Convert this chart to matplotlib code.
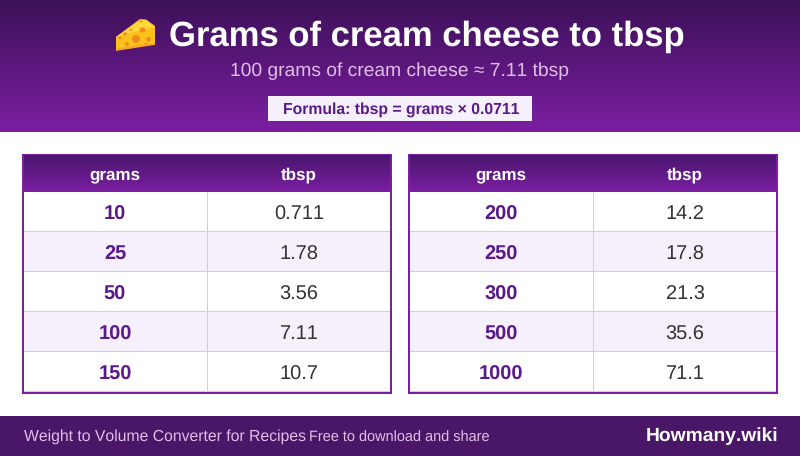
import numpy as np
import matplotlib
matplotlib.use("Agg")
import matplotlib.pyplot as plt
from matplotlib.patches import Rectangle, Polygon, Ellipse
from matplotlib.colors import LinearSegmentedColormap

plt.rcParams['font.family'] = ['Liberation Sans', 'DejaVu Sans']
plt.rcParams['text.hinting'] = 'no_hinting'
plt.rcParams['text.hinting_factor'] = 8
plt.rcParams['text.kerning_factor'] = 6

TITLE = "Grams of cream cheese to tbsp"
SUBTITLE = "100 grams of cream cheese ≈ 7.11 tbsp"
FORMULA = "Formula: tbsp = grams × 0.0711"
COLUMNS = ["grams", "tbsp"]
LEFT_GRAMS = ["10", "25", "50", "100", "150"]
LEFT_TBSP = ["0.711", "1.78", "3.56", "7.11", "10.7"]
RIGHT_GRAMS = ["200", "250", "300", "500", "1000"]
RIGHT_TBSP = ["14.2", "17.8", "21.3", "35.6", "71.1"]
FOOT_LEFT = "Weight to Volume Converter for Recipes"
FOOT_MID = "Free to download and share"
FOOT_RIGHT = "Howmany.wiki"

TOP = "#3c1057"
BOT = "#7b1fa2"
INK = "#5b1a8a"
LINE = "#d9c6ea"
ALT = "#f5f0fb"
px = 0.72

fig = plt.figure(figsize=(8, 4.561), dpi=100, facecolor="white")
ax = fig.add_axes([0, 0, 1, 1])
ax.axis("off")

cmap = LinearSegmentedColormap.from_list("g", [TOP, BOT])
grad = np.linspace(0, 1, 256).reshape(-1, 1)


def gradient(x0, x1, y0, y1, cm=cmap, z=1):
    ax.imshow(grad, extent=(x0, x1, y1, y0), cmap=cm, aspect="auto", zorder=z,
              interpolation="bilinear")
    ax.set_xlim(0, 800)
    ax.set_ylim(456, 0)


def rect(x0, y0, x1, y1, color, z=2):
    ax.add_patch(Rectangle((x0, y0), x1 - x0, y1 - y0, facecolor=color,
                           edgecolor="none", linewidth=0, zorder=z))


def label(x, y, s, size, color, weight="normal", ha="center"):
    ax.text(x, y + 0.4, s, fontsize=size * px, color=color, fontweight=weight,
            ha=ha, va="baseline", zorder=5)


# header band
gradient(0, 800, 0, 132)
label(426.5, 45, TITLE, 34.6, "white", "bold")
label(399.5, 76, SUBTITLE, 19.3, "#e1bee7")
rect(268, 96, 532, 121, ALT)
label(401, 113, FORMULA, 15.8, INK, "bold")

# cheese icon, drawn from shapes since no colour emoji font is available
ax.add_patch(Polygon([(116, 51), (116, 37), (140, 19), (146, 19.5), (155, 26),
                      (155, 45)], closed=True, facecolor="#f9a825",
                     edgecolor="none", zorder=3))
ax.add_patch(Polygon([(116, 48.5), (116, 37), (155, 27), (155, 43)], closed=True,
                     facecolor="#fdc11e", edgecolor="none", zorder=3))
ax.add_patch(Polygon([(116, 37), (140, 20), (146, 20), (155, 27)], closed=True,
                     facecolor="#ffd83b", edgecolor="none", zorder=3))
for cx, cy, w, h in [(136, 39, 8, 8), (142.5, 30, 6, 5), (148.5, 39.5, 4.5, 5),
                     (127, 44, 4, 4), (125, 34, 4, 3), (131, 30, 3, 2), (141, 21.5, 3, 2),
                     (146, 44, 3, 2), (120, 38, 3, 3)]:
    ax.add_patch(Ellipse((cx, cy), w, h, facecolor="#f28a1e", edgecolor="none", zorder=4))


def table(x0, grams, tbsp):
    x1 = x0 + 370
    div = x0 + 185
    rect(x0, 154, x1, 394, BOT, 0.5)
    gradient(x0 + 2, x1 - 2, 156, 192,
             LinearSegmentedColormap.from_list("h", ["#4a166e", BOT]), z=1.5)
    for i, (g, t) in enumerate(zip(grams, tbsp)):
        y0 = 192 + 40 * i
        rect(x0 + 2, y0, x1 - 2, y0 + 40, ALT if i % 2 else "white", 2.1)
        rect(x0 + 2, y0 + 39, x1 - 2, y0 + 40, LINE, 2.2)
        rect(div, y0, div + 1, y0 + 40, LINE, 2.2)
        label(x0 + 93, y0 + 27, g, 20, INK, "bold")
        label(x0 + 277, y0 + 27, t, 20, "#333333")
    label(x0 + 93, 179, COLUMNS[0], 17, "white", "bold")
    label(x0 + 276.5, 179, COLUMNS[1], 17, "white", "bold")


table(22, LEFT_GRAMS, LEFT_TBSP)
table(408, RIGHT_GRAMS, RIGHT_TBSP)

# footer
rect(0, 416, 800, 456, "#4a1668")
label(24, 440, FOOT_LEFT, 15.7, "#e1bee7", ha="left")
label(309, 441, FOOT_MID, 14.5, "#e1bee7", ha="left")
label(778.5, 441, FOOT_RIGHT, 19.3, "white", "bold", ha="right")

fig.savefig("out.png", dpi=100, facecolor="white")
